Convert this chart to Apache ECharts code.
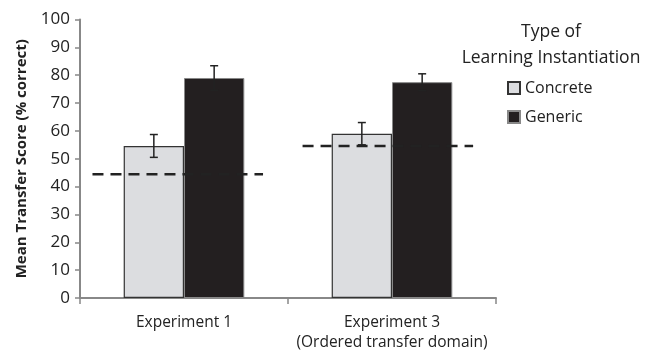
<!DOCTYPE html>
<html><head><meta charset="utf-8">
<script src="https://cdn.jsdelivr.net/npm/echarts@6/dist/echarts.min.js"></script>
<style>html,body{margin:0;padding:0;background:#fff}#c{width:651px;height:356px}</style>
</head><body><div id="c"></div>
<script>
const categories = ['Experiment 1', 'Experiment 3\n(Ordered transfer domain)'];
const concrete = [54.6, 59.0];
const concreteErr = [4.1, 4.0];
const generic = [79.0, 77.5];
const genericErr = [4.4, 3.0];
const chanceLevel = [44.4, 54.6];
const chanceSpan = [[0.06, 0.88], [1.07, 1.89]];
const yTicks = {min: 0, max: 100, interval: 10};
const FONT = 'Open Sans';

const chart = echarts.init(document.getElementById('c'), null, {renderer: 'canvas'});
const BARW = 0.29;

function errSeries(vals, errs, side) {
  return {
    type: 'custom', xAxisIndex: 0, yAxisIndex: 0, z: 5,
    data: vals.map((v, i) => [i, v, errs[i]]),
    renderItem: function (params, api) {
      const i = api.value(0), v = api.value(1), e = api.value(2);
      const band = api.size([1, 0])[0];
      const off = side * band * BARW / 2;
      const top = api.coord([i, v + e]);
      const bot = api.coord([i, v - e]);
      const x = top[0] + off;
      const cap = 4;
      const st = {stroke: '#222', lineWidth: 1.5};
      return {type: 'group', children: [
        {type: 'line', shape: {x1: x, y1: top[1], x2: x, y2: bot[1]}, style: st},
        {type: 'line', shape: {x1: x - cap, y1: top[1], x2: x + cap, y2: top[1]}, style: st},
        {type: 'line', shape: {x1: x - cap, y1: bot[1], x2: x + cap, y2: bot[1]}, style: st}
      ]};
    }
  };
}

const dashSeries = chanceLevel.map((lv, i) => ({
  type: 'line', xAxisIndex: 1, yAxisIndex: 0, z: 6, symbol: 'none', silent: true,
  data: [[chanceSpan[i][0], lv], [chanceSpan[i][1], lv]],
  lineStyle: {color: '#222', width: 2.5, type: [11, 7]}
}));

chart.setOption({
  animation: false,
  textStyle: {fontFamily: FONT},
  grid: {left: 80, right: 155, top: 19.5, bottom: 58, containLabel: false},
  title: {
    text: 'Type of\nLearning Instantiation',
    left: 546, top: 14, textAlign: 'center',
    textStyle: {fontFamily: FONT, fontSize: 17.5, fontWeight: 'normal', color: '#222', lineHeight: 26}
  },
  legend: {
    orient: 'vertical', left: 502, top: 74.5, itemWidth: 12, itemHeight: 12, itemGap: 12,
    icon: 'rect',
    textStyle: {fontFamily: FONT, fontSize: 16, color: '#222', lineHeight: 17},
    data: ['Concrete', 'Generic']
  },
  xAxis: [{
    type: 'category', data: categories,
    axisLine: {lineStyle: {color: '#888', width: 2}},
    axisTick: {show: true, length: 6, lineStyle: {color: '#888', width: 1.5}},
    axisLabel: {interval: 0, fontFamily: FONT, fontSize: 15.5, color: '#222', margin: 15, lineHeight: 20}
  }, {
    type: 'value', min: 0, max: 2, show: false
  }],
  yAxis: {
    type: 'value', min: yTicks.min, max: yTicks.max, interval: yTicks.interval,
    name: 'Mean Transfer Score (% correct)', nameLocation: 'middle', nameGap: 51,
    nameTextStyle: {fontFamily: FONT, fontSize: 15, fontWeight: 'bold', color: '#222'},
    axisLine: {show: true, lineStyle: {color: '#888', width: 2}},
    axisTick: {show: true, length: 5, lineStyle: {color: '#888', width: 1.5}},
    axisLabel: {fontFamily: FONT, fontSize: 17, color: '#222', margin: 10},
    splitLine: {show: false}
  },
  series: [
    {name: 'Concrete', type: 'bar', data: concrete, barWidth: (BARW * 100) + '%', barGap: '0%',
     itemStyle: {color: '#dcdde0', borderColor: '#333', borderWidth: 1.2}},
    {name: 'Generic', type: 'bar', data: generic, barWidth: (BARW * 100) + '%', barGap: '0%',
     itemStyle: {color: '#231f20', borderColor: '#888', borderWidth: 1}},
    errSeries(concrete, concreteErr, -1),
    errSeries(generic, genericErr, 1),
    ...dashSeries
  ]
});
</script></body></html>
